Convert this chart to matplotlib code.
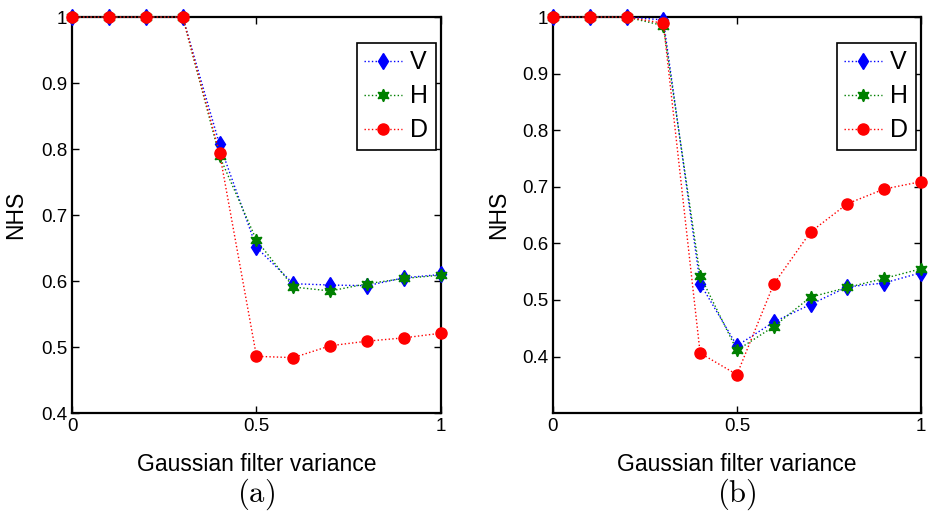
import matplotlib.pyplot as plt

plt.rcParams['font.family'] = ['Liberation Sans', 'DejaVu Sans']
plt.rcParams['mathtext.fontset'] = 'cm'

variance = [0, 0.1, 0.2, 0.3, 0.4, 0.5, 0.6, 0.7, 0.8, 0.9, 1.0]

# panel (a)
v_a = [1, 1, 1, 1, 0.807, 0.651, 0.596, 0.594, 0.593, 0.605, 0.610]
h_a = [1, 1, 1, 1, 0.789, 0.662, 0.591, 0.585, 0.596, 0.604, 0.609]
d_a = [1, 1, 1, 1, 0.794, 0.486, 0.484, 0.502, 0.509, 0.514, 0.521]

# panel (b)
v_b = [1, 1, 1, 0.995, 0.529, 0.419, 0.461, 0.492, 0.523, 0.530, 0.548]
h_b = [1, 1, 1, 0.985, 0.543, 0.411, 0.453, 0.505, 0.522, 0.538, 0.555]
d_b = [1, 1, 1, 0.989, 0.406, 0.368, 0.528, 0.620, 0.670, 0.696, 0.709]

yticks = [0.4, 0.5, 0.6, 0.7, 0.8, 0.9, 1]
ytick_labels = ['0.4', '0.5', '0.6', '0.7', '0.8', '0.9', '1']

hexagram = (6, 1, 0)

fig = plt.figure(figsize=(9.34, 5.17), dpi=100)
ax_a = fig.add_axes([0.0771, 0.201, 0.395, 0.766])
ax_b = fig.add_axes([0.592, 0.201, 0.394, 0.766])


def draw_panel(ax, v, h, d, ylim, tag, ylab_x):
    ax.plot(variance, v, ':', color='blue', marker='d', markersize=8, lw=1,
            label='V', clip_on=False, zorder=3)
    ax.plot(variance, h, ':', color='green', marker=hexagram, markersize=9, lw=1,
            label='H', clip_on=False, zorder=3)
    ax.plot(variance, d, ':', color='red', marker='o', markersize=8, lw=1,
            label='D', clip_on=False, zorder=3)
    ax.set_xlim(0, 1)
    ax.set_ylim(*ylim)
    ax.set_xticks([0, 0.5, 1])
    ax.set_xticklabels(['0', '0.5', '1'])
    ax.set_yticks(yticks)
    ax.set_yticklabels(ytick_labels)
    ax.tick_params(direction='in', top=True, right=True, labelsize=13.5, length=5, width=1)
    for s in ax.spines.values():
        s.set_linewidth(1.6)
    ax.set_ylabel('NHS', fontsize=16.5, va='center')
    ax.yaxis.set_label_coords(ylab_x, 0.5)
    ax.set_xlabel('Gaussian filter variance', fontsize=16.5)
    ax.xaxis.set_label_coords(0.5, -0.129)
    ax.xaxis.label.set_va('center')
    ax.text(0.5, -0.205, r'$\mathrm{(%s)}$' % tag, transform=ax.transAxes,
            ha='center', va='center', fontsize=22)
    leg = ax.legend(loc='upper right', bbox_to_anchor=(0.986, 0.935), fontsize=18,
                    fancybox=False, edgecolor='black', framealpha=1,
                    borderaxespad=0, handlelength=1.5, handletextpad=0.35,
                    borderpad=0.3, labelspacing=0.4)
    leg.get_frame().set_linewidth(1.2)


draw_panel(ax_a, v_a, h_a, d_a, (0.4, 1.0), 'a', -0.152)
draw_panel(ax_b, v_b, h_b, d_b, (0.3, 1.0), 'b', -0.147)

fig.savefig('out.png', dpi=100)
